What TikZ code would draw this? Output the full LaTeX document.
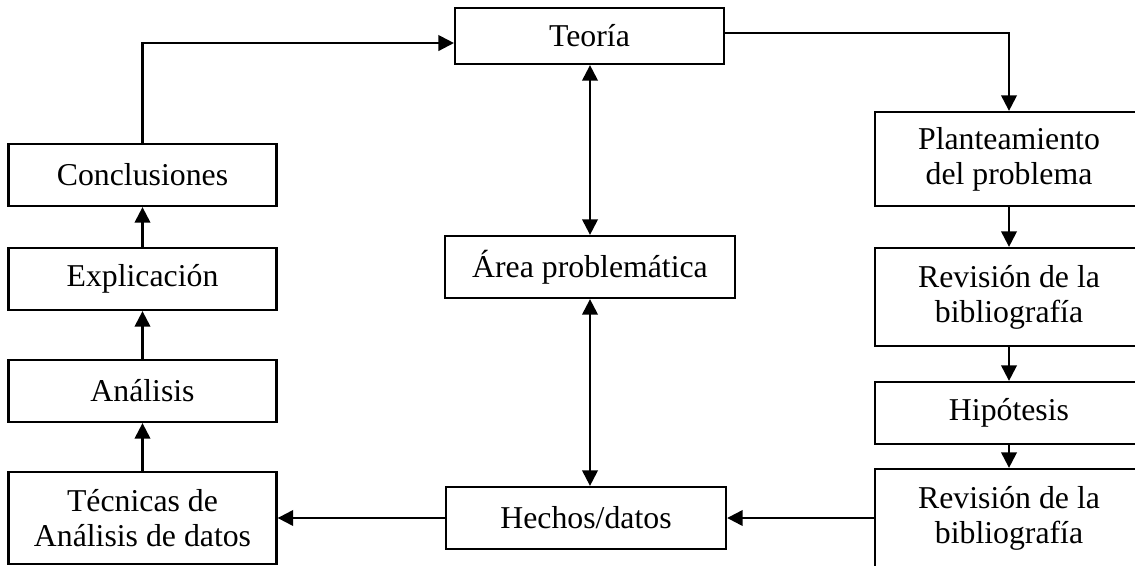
\documentclass[tikz,border=0pt]{standalone}
\usepackage{fontspec}
\setmainfont{Liberation Serif}
\usetikzlibrary{arrows.meta, positioning}
\tikzstyle{box} = [rectangle, draw=black, line width=0.8pt, text centered, align=center,
	minimum width=3.35cm, minimum height=0.775cm, inner sep=1pt, font=\fontsize{11.3}{12.4}\selectfont]
\tikzstyle{tallbox} = [box, minimum height=1.2cm]
\tikzstyle{arrow} = [-{Triangle[length=5.5pt,width=5.5pt]}, line width=0.8pt]
\tikzstyle{twoway} = [{Triangle[length=5.5pt,width=5.5pt]}-{Triangle[length=5.5pt,width=5.5pt]}, line width=0.8pt]

\begin{document}
\begin{tikzpicture}[x=0.0125cm, y=-0.0125cm]
	\useasboundingbox (0,0) rectangle (1135,565);

	\node (teoria) [box, minimum width=3.36cm, minimum height=0.7cm] at (589.5,36) {Teoría};

	\node (conclusiones) [box] at (142.5,175) {Conclusiones};
	\node (explicacion) [box] at (142.5,279) {Explicación};
	\node (analisis) [box] at (142.5,391) {Análisis};
	\node (tecnicas) [tallbox, minimum height=1.15cm] at (142.5,518) {Técnicas de\\Análisis de datos};

	\node (area) [box, minimum width=3.625cm] at (590,267) {Área problemática};
	\node (hechos) [box, minimum width=3.5cm] at (586,518) {Hechos/datos};

	\node (planteamiento) [tallbox, minimum height=1.175cm] at (1009,159) {Planteamiento\\del problema};
	\node (revision1) [tallbox, minimum height=1.225cm] at (1009,297) {Revisión de la\\bibliografía};
	\node (hipotesis) [box] at (1009,413) {Hipótesis};
	\node (revision2) [tallbox, minimum height=1.225cm] at (1009,518) {Revisión de la\\bibliografía};

	% loop back to the theory
	\draw [arrow] (conclusiones.north) |- ([yshift=-2.5pt]teoria.west);
	\draw [arrow] ([yshift=1pt]teoria.east) -| (planteamiento.north);

	\draw [arrow] (planteamiento) -- (revision1);
	\draw [arrow] (revision1) -- (hipotesis);
	\draw [arrow] (hipotesis) -- (revision2);
	\draw [arrow] (revision2.west) -- (hechos.east);
	\draw [arrow] (hechos.west) -- (tecnicas.east);

	\draw [arrow] (tecnicas) -- (analisis);
	\draw [arrow] (analisis) -- (explicacion);
	\draw [arrow] (explicacion) -- (conclusiones);

	\draw [twoway] (teoria.south -| area.north) -- (area.north);
	\draw [twoway] (area.south) -- (area.south |- hechos.north);

\end{tikzpicture}
\end{document}
